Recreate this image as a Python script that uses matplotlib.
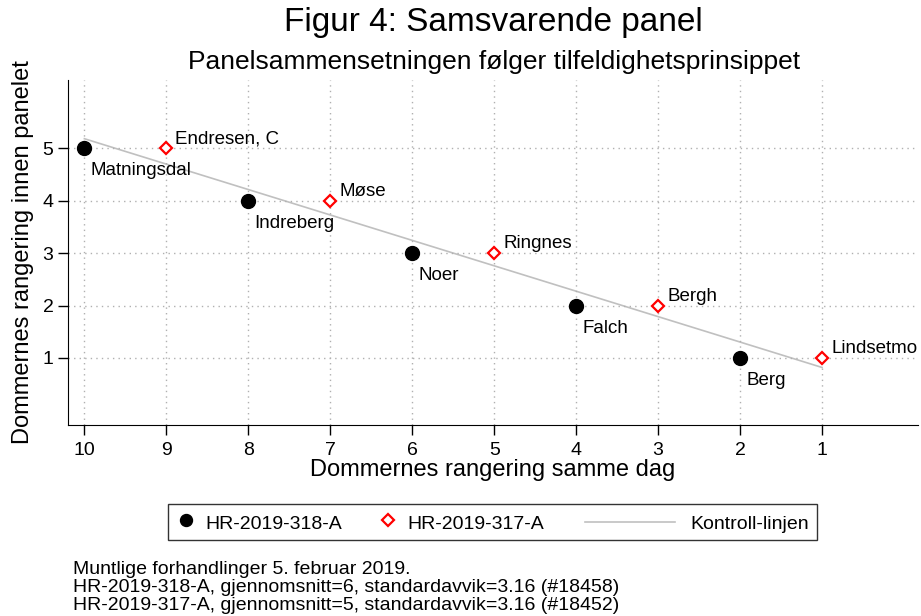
import numpy as np
import matplotlib
matplotlib.use('Agg')
import matplotlib.pyplot as plt
from matplotlib.lines import Line2D
from matplotlib.legend_handler import HandlerLine2D

plt.rcParams['font.family'] = ['Liberation Sans', 'DejaVu Sans']

# HR-2019-318-A
x_318 = [10, 8, 6, 4, 2]
y_318 = [5, 4, 3, 2, 1]
names_318 = ['Matningsdal', 'Indreberg', 'Noer', 'Falch', 'Berg']

# HR-2019-317-A
x_317 = [9, 7, 5, 3, 1]
y_317 = [5, 4, 3, 2, 1]
names_317 = ['Endresen, C', 'Møse', 'Ringnes', 'Bergh', 'Lindsetmo']

xticks = [10, 9, 8, 7, 6, 5, 4, 3, 2, 1]
yticks = [1, 2, 3, 4, 5]

notes = ['Muntlige forhandlinger 5. februar 2019.',
         'HR-2019-318-A, gjennomsnitt=6, standardavvik=3.16 (#18458)',
         'HR-2019-317-A, gjennomsnitt=5, standardavvik=3.16 (#18452)']

LINECOL = '#c0c0c0'


class LongLine(HandlerLine2D):
    # legg linjen lenger ut til venstre enn vanlig handle
    def create_artists(self, legend, orig_handle, xdescent, ydescent, width, height, fontsize, trans):
        y = height / 2 - ydescent
        ln = Line2D([-xdescent - 3.9 * fontsize, -xdescent + 0.69 * fontsize], [y, y],
                    color=LINECOL, lw=1.2)
        ln.set_transform(trans)
        return [ln]


def main():
    fig = plt.figure(figsize=(9.21, 6.16), dpi=100)
    ax = fig.add_axes([0.0738, 0.310, 0.9229, 0.560])

    # kontroll-linjen: lineaer tilpasning av alle punktene
    allx = np.array(x_318 + x_317, dtype=float)
    ally = np.array(y_318 + y_317, dtype=float)
    k, m = np.polyfit(allx, ally, 1)
    lx = np.array([max(allx), min(allx)])
    ax.plot(lx, k * lx + m, color=LINECOL, lw=1.2, zorder=1)

    ax.plot(x_318, y_318, 'o', color='black', ms=10, zorder=3)
    ax.plot(x_317, y_317, 'D', mfc='white', mec='red', mew=1.6, ms=6.5, zorder=3)

    for x, y, n in zip(x_318, y_318, names_318):
        ax.annotate(n, (x, y), xytext=(4.5, -19.5), textcoords='offset points',
                    ha='left', va='baseline', fontsize=13.5)
    for x, y, n in zip(x_317, y_317, names_317):
        ax.annotate(n, (x, y), xytext=(6.5, 3.6), textcoords='offset points',
                    ha='left', va='baseline', fontsize=13.5)

    ax.set_xlim(10.2, -0.17)
    ax.set_ylim(-0.28, 6.3)
    ax.set_xticks(xticks)
    ax.set_yticks(yticks)
    ax.tick_params(labelsize=14, length=7, width=1)
    ax.tick_params(axis='x', pad=5)
    ax.tick_params(axis='y', pad=3.5)
    ax.grid(True, linestyle=(0, (1, 3)), color='#b0b0b0', lw=1)
    ax.spines['top'].set_visible(False)
    ax.spines['right'].set_visible(False)
    ax.set_xlabel('Dommernes rangering samme dag', fontsize=17, labelpad=0)
    ax.set_ylabel('Dommernes rangering innen panelet', fontsize=17, labelpad=6)

    fig.text(0.536, 0.964, 'Figur 4: Samsvarende panel', ha='center', va='center', fontsize=24)
    fig.text(0.536, 0.899, 'Panelsammensetningen følger tilfeldighetsprinsippet',
             ha='center', va='center', fontsize=19)

    kontroll = Line2D([], [], color=LINECOL, lw=1.2)
    blank = Line2D([], [], ls='none')
    handles = [Line2D([], [], ls='none', marker='o', color='black', ms=8.6),
               Line2D([], [], ls='none', marker='D', mfc='white', mec='red', mew=1.6, ms=6.3),
               blank,
               kontroll]
    labels = ['HR-2019-318-A', 'HR-2019-317-A', 'm', 'Kontroll-linjen']
    leg = fig.legend(handles, labels, loc='center', bbox_to_anchor=(0.535, 0.152), ncol=4,
                     fontsize=14, frameon=True, fancybox=False, edgecolor='black',
                     handlelength=1.0, handletextpad=0.52, columnspacing=1.83,
                     borderpad=0.4, handleheight=1.2, handler_map={kontroll: LongLine()})
    leg.get_frame().set_linewidth(1)
    leg.get_texts()[2].set_alpha(0)

    for i, t in enumerate(notes):
        fig.text(0.079, 0.076 - i * 0.0292, t, ha='left', va='center', fontsize=14)

    fig.savefig('out.png', dpi=100)


if __name__ == '__main__':
    main()
